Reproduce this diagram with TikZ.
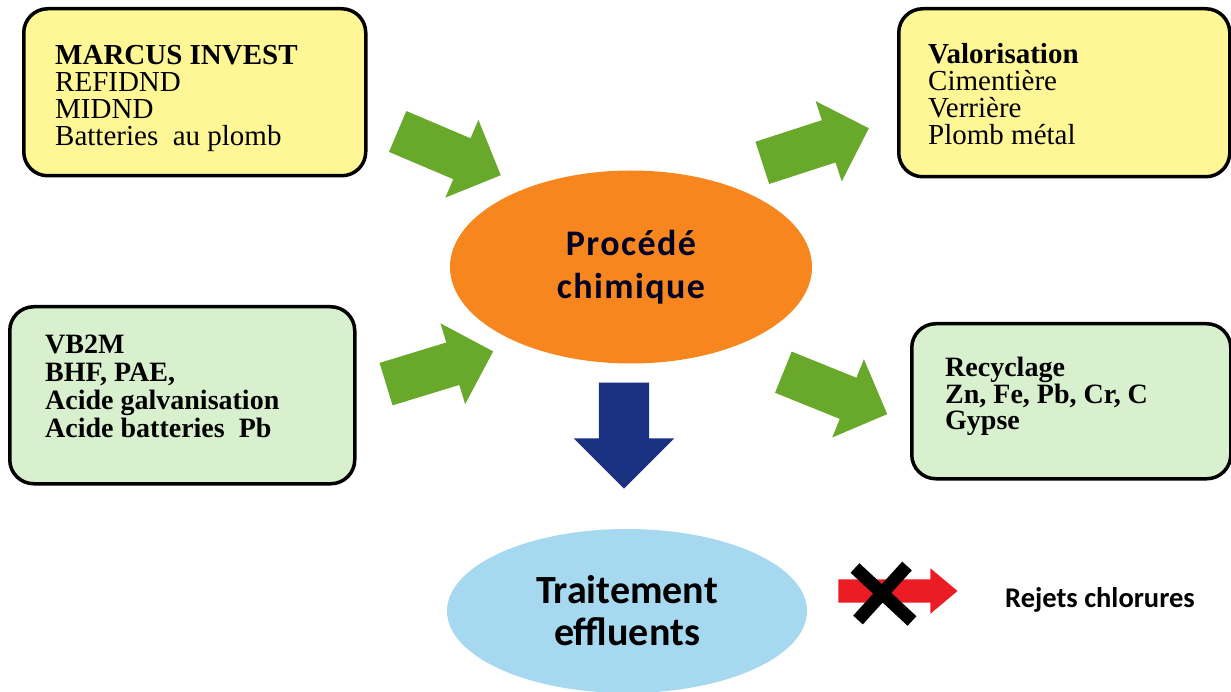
\documentclass[tikz,border=0pt]{standalone}
\usepackage{fontspec}
\setmainfont{Liberation Serif}
\newfontfamily\calibri{Carlito}
\newfontfamily\calibrispaced[LetterSpace=4]{Carlito}
\usepackage{xcolor}
\usetikzlibrary{shapes.geometric,shapes.arrows,positioning}

\definecolor{boxyellow}{RGB}{255,247,150}
\definecolor{boxgreen}{RGB}{216,240,206}
\definecolor{arrowgreen}{RGB}{104,168,42}
\definecolor{procorange}{RGB}{247,134,31}
\definecolor{effblue}{RGB}{166,216,240}
\definecolor{arrownavy}{RGB}{26,48,128}
\definecolor{arrowred}{RGB}{236,28,36}

\begin{document}
\begin{tikzpicture}[x=1pt,y=-1pt,
      box_yellow/.style={
         draw=black,
         line width=3.5pt,
         rounded corners=24pt,
         fill=boxyellow,
         anchor=north west,
         inner sep=0pt},
      box_green/.style={
         box_yellow,
         fill=boxgreen},
      box_text/.style={
         align=left,
         inner sep=0pt,
         font=\fontsize{29}{27}\selectfont},
      ellipse_node/.style={
         ellipse,
         inner sep=0pt,
         align=center},
      arrow_green/.style={
         single arrow,
         fill=arrowgreen,
         inner xsep=0pt,
         inner ysep=22pt,
         single arrow head extend=20pt,
         minimum height=112pt},
      arrow_blue/.style={
         single arrow,
         fill=arrownavy,
         inner xsep=0pt,
         inner ysep=25pt,
         single arrow head extend=25pt,
         minimum height=106pt},
      arrow_red/.style={
         single arrow,
         fill=arrowred,
         inner xsep=0pt,
         inner ysep=11.5pt,
         single arrow head extend=11pt,
         single arrow tip angle=80,
         minimum height=119pt},
      cross_line/.style={
         draw=black,
         line width=13pt}
]
      \useasboundingbox (0,0) rectangle (1231,692);

      %sources
      \node[box_yellow,minimum width=342pt,minimum height=167pt] (marcus) at (22,7) {};
      \node[box_text,below right=38pt and 33pt of marcus.north west] (marcus_txt)
         {\textbf{MARCUS INVEST}\\REFIDND\\MIDND\\Batteries\ \ au plomb};

      \node[box_green,minimum width=345pt,minimum height=177pt] (vb2m) at (8,305) {};
      \node[box_text,font=\fontsize{28}{28}\selectfont\bfseries,below right=30pt and 37pt of vb2m.north west] (vb2m_txt)
         {VB2M\\BHF, PAE,\\Acide galvanisation\\Acide batteries\ \ Pb};

      %outputs
      \node[box_yellow,minimum width=331pt,minimum height=168pt] (valo) at (897,7) {};
      \node[box_text,below right=36pt and 31pt of valo.north west] (valo_txt)
         {\textbf{Valorisation}\\Cimentière\\Verrière\\Plomb métal};

      \node[box_green,minimum width=319pt,minimum height=155pt] (recy) at (910,322) {};
      \node[box_text,font=\fontsize{28}{26.5}\selectfont\bfseries,below right=35pt and 35pt of recy.north west] (recy_txt)
         {Recyclage\\Zn, Fe, Pb, Cr, C\\Gypse};

      %process
      \node[ellipse_node,fill=procorange,minimum width=362pt,minimum height=193pt,text=black!85!blue,
         font=\calibrispaced\bfseries\fontsize{36}{43}\selectfont] (proc) at (631,267) {Procédé\\chimique};

      \node[ellipse_node,fill=effblue,minimum width=360pt,minimum height=164pt,
         font=\calibri\bfseries\fontsize{40}{42}\selectfont] (eff) at (627,611) {Traitement\\effluents};

      \node[font=\calibri\bfseries\fontsize{28.5}{28}\selectfont,anchor=west,inner sep=0pt] (rejets) at (1005,600) {Rejets chlorures};

      %flows
      \node[arrow_green,rotate=-23] (in_top) at (439,149) {};
      \node[arrow_green,rotate=17] (in_bottom) at (429,371) {};
      \node[arrow_green,rotate=18] (out_top) at (805,149) {};
      \node[arrow_green,rotate=-22] (out_bottom) at (825,389) {};
      \node[arrow_blue,rotate=-90] (down) at (624,423) {};

      %blocked discharge
      \node[arrow_red] (reject) at (891,591) {};
      \coordinate (x1) at (855,568);
      \coordinate (x2) at (912,621);
      \coordinate (x3) at (907,566);
      \coordinate (x4) at (858,620);
      \draw[cross_line] (x1) -- (x2);
      \draw[cross_line] (x3) -- (x4);

\end{tikzpicture}
\end{document}
